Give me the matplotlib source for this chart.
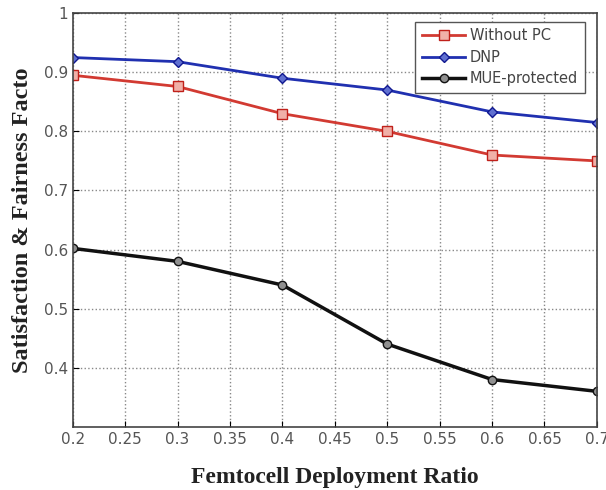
import numpy as np
import matplotlib.pyplot as plt

ratio = [0.2, 0.3, 0.4, 0.5, 0.6, 0.7]
without_pc = [0.895, 0.876, 0.830, 0.800, 0.760, 0.750]
dnp = [0.925, 0.918, 0.890, 0.870, 0.833, 0.815]
mue = [0.602, 0.580, 0.540, 0.440, 0.380, 0.360]

xticks = [0.2, 0.25, 0.3, 0.35, 0.4, 0.45, 0.5, 0.55, 0.6, 0.65, 0.7]
yticks = [0.4, 0.5, 0.6, 0.7, 0.8, 0.9, 1.0]

fig = plt.figure(figsize=(6.06, 4.9), dpi=100)
ax = fig.add_axes([0.12, 0.129, 0.865, 0.844])

ax.plot(ratio, without_pc, color='#d23a32', lw=2, marker='s', ms=7,
        mfc='#f0b0a8', mec='#c0201a', label='Without PC')
ax.plot(ratio, dnp, color='#2030b0', lw=2, marker='D', ms=5,
        mfc='#6070d0', mec='#101890', label='DNP')
ax.plot(ratio, mue, color='#111111', lw=2.5, marker='o', ms=6,
        mfc='#909090', mec='#111111', label='MUE-protected')

ax.set_xlim(0.2, 0.7)
ax.set_ylim(0.3, 1.0)
ax.set_xticks(xticks)
ax.set_xticklabels([f'{t:g}' for t in xticks])
ax.set_yticks(yticks)
ax.set_yticklabels([f'{t:g}' for t in yticks])
ax.grid(True, color='#888888', ls=':', lw=1)
ax.tick_params(labelsize=11, labelcolor='#555555', direction='in', length=4)
for s in ax.spines.values():
    s.set_color('#444444')
    s.set_linewidth(1.2)

ax.set_xlabel('Femtocell Deployment Ratio', fontsize=17, fontweight='bold',
              family='Liberation Serif', color='#222222')
ax.set_ylabel('Satisfaction & Fairness Facto', fontsize=17.5, fontweight='bold',
              family='Liberation Serif', color='#222222')
ax.xaxis.set_label_coords(0.5, -0.097)
ax.yaxis.set_label_coords(-0.076, 0.5)

leg = ax.legend(loc='upper right', fontsize=10.5, fancybox=False, framealpha=1,
                edgecolor='#555555', borderpad=0.45, handlelength=3.0,
                labelspacing=0.45, handletextpad=0.3,
                bbox_to_anchor=(0.9905, 0.997))
for t in leg.get_texts():
    t.set_color('#444444')

fig.savefig('out.png', dpi=100)
